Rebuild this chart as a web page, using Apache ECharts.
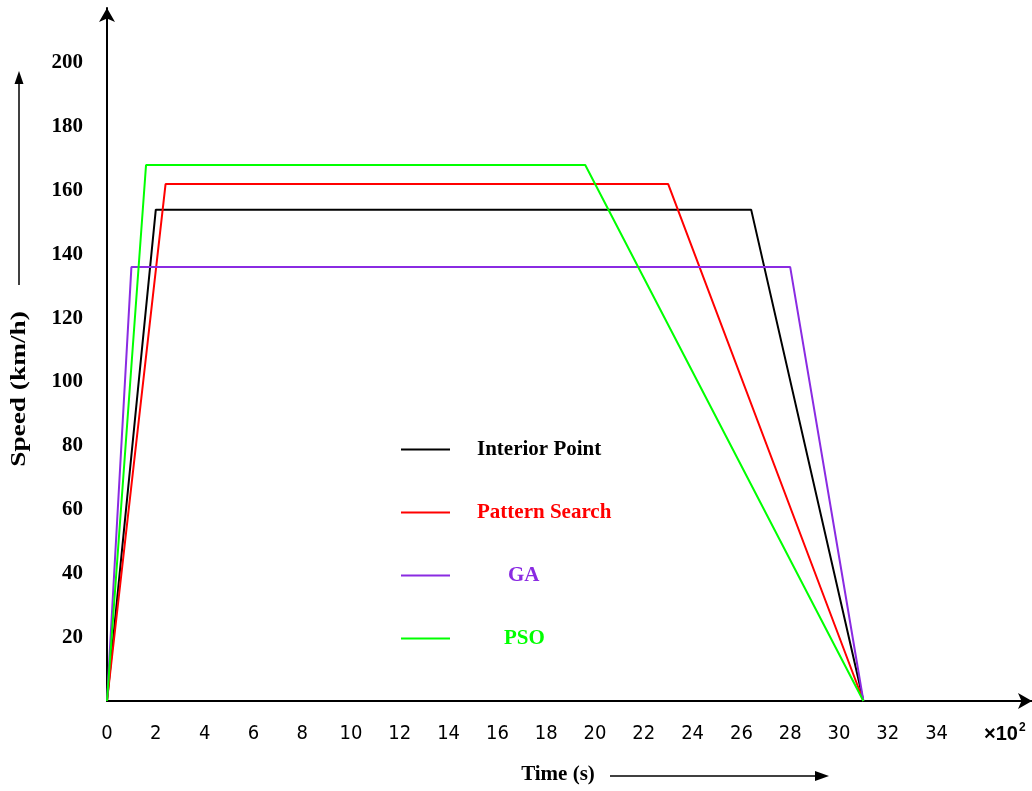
<!DOCTYPE html>
<html>
<head>
<meta charset="utf-8">
<script src="https://cdn.jsdelivr.net/npm/echarts@6/dist/echarts.min.js"></script>
<style>
  html, body { margin: 0; padding: 0; background: #fff; }
  #chart { width: 1032px; height: 791px; }
</style>
</head>
<body>
<div id="chart"></div>
<script>
// Speed profiles of the train run (time in hundreds of seconds, speed in km/h)
const seriesNames = ['Interior Point', 'Pattern Search', 'GA', 'PSO'];
const seriesColors = ['#000000', '#ff0000', '#8a2be2', '#00ff00'];
const interiorPoint = [[0, 0], [2.0, 154], [26.4, 154], [31.0, 0]];
const patternSearch = [[0, 0], [2.4, 162], [23.0, 162], [31.0, 0]];
const gaProfile     = [[0, 0], [1.0, 136], [28.0, 136], [31.0, 0]];
const psoProfile    = [[0, 0], [1.6, 168], [19.6, 168], [31.0, 0]];
const xTickLabels = [0, 2, 4, 6, 8, 10, 12, 14, 16, 18, 20, 22, 24, 26, 28, 30, 32, 34];
const yTickLabels = [20, 40, 60, 80, 100, 120, 140, 160, 180, 200];

// horizontal indent of each legend label
const legendIndent = [22, 22, 53, 49];

const profiles = [interiorPoint, patternSearch, gaProfile, psoProfile];

const chart = echarts.init(document.getElementById('chart'), null, { renderer: 'canvas' });

const serif = "'Liberation Serif', 'Times New Roman', serif";
const sans = "'DejaVu Sans Condensed', 'Liberation Sans', sans-serif";

const option = {
  backgroundColor: '#ffffff',
  animation: false,
  grid: { left: 107, right: 0, top: 8, bottom: 90, containLabel: false },
  xAxis: {
    type: 'value',
    min: 0,
    max: 37.91,
    interval: 2,
    splitLine: { show: false },
    axisTick: { show: false },
    axisLine: {
      show: true,
      onZero: false,
      symbol: ['none', 'arrow'],
      symbolSize: [12, 14],
      lineStyle: { color: '#000', width: 2 }
    },
    axisLabel: {
      margin: 23,
      fontFamily: sans,
      fontSize: 20,
      color: '#000',
      showMaxLabel: false,
      formatter: v => (xTickLabels.indexOf(v) >= 0 ? String(v) : '')
    }
  },
  yAxis: {
    type: 'value',
    min: 0,
    max: 217.2,
    interval: 20,
    splitLine: { show: false },
    axisTick: { show: false },
    axisLine: {
      show: true,
      onZero: false,
      symbol: ['none', 'arrow'],
      symbolSize: [12, 14],
      lineStyle: { color: '#000', width: 2 }
    },
    axisLabel: {
      margin: 24,
      padding: [6, 0, 0, 0],
      fontFamily: serif,
      fontWeight: 'bold',
      fontSize: 21,
      color: '#000',
      showMaxLabel: false,
      formatter: v => (yTickLabels.indexOf(v) >= 0 ? String(v) : '')
    }
  },
  legend: {
    orient: 'vertical',
    left: 400,
    top: 439,
    padding: 0,
    itemWidth: 49,
    itemHeight: 14,
    itemGap: 42,
    selectedMode: false,
    itemStyle: { opacity: 0 },
    data: seriesNames.map((name, i) => ({
      name: name,
      textStyle: {
        color: seriesColors[i],
        fontFamily: serif,
        fontWeight: 'bold',
        fontSize: 21,
        padding: [0, 0, 0, legendIndent[i]]
      }
    }))
  },
  series: seriesNames.map((name, i) => ({
    name: name,
    type: 'line',
    data: profiles[i],
    symbol: 'none',
    color: seriesColors[i],
    lineStyle: { color: seriesColors[i], width: 2 }
  })),
  graphic: [
    // vertical axis title with its arrow
    {
      type: 'text',
      x: 20,
      y: 389,
      rotation: Math.PI / 2,
      scaleX: 1.3,
      style: {
        text: 'Speed (km/h)',
        font: "bold 21px " + serif,
        fill: '#000',
        align: 'center',
        verticalAlign: 'middle'
      }
    },
    {
      type: 'line',
      shape: { x1: 19, y1: 285, x2: 19, y2: 80 },
      style: { stroke: '#000', lineWidth: 1.5 }
    },
    {
      type: 'polygon',
      shape: { points: [[19, 71], [14.5, 84], [23.5, 84]] },
      style: { fill: '#000' }
    },
    // horizontal axis title with its arrow
    {
      type: 'text',
      style: {
        text: 'Time (s)',
        font: "bold 21px " + serif,
        fill: '#000',
        align: 'center',
        verticalAlign: 'middle',
        x: 558, y: 775
      }
    },
    {
      type: 'line',
      shape: { x1: 610, y1: 776, x2: 818, y2: 776 },
      style: { stroke: '#000', lineWidth: 1.5 }
    },
    {
      type: 'polygon',
      shape: { points: [[829, 776], [815, 771], [815, 781]] },
      style: { fill: '#000' }
    },
    // time unit multiplier
    {
      type: 'text',
      style: {
        text: '{m|\u00d710}{s|2}',
        x: 984, y: 733,
        verticalAlign: 'middle',
        rich: {
          m: { fontFamily: "'Liberation Sans', sans-serif", fontWeight: 'bold', fontSize: 20, color: '#000', verticalAlign: 'bottom' },
          s: { fontFamily: "'Liberation Sans', sans-serif", fontWeight: 'bold', fontSize: 12, color: '#000', verticalAlign: 'top', padding: [0, 0, 10, 1] }
        }
      }
    }
  ]
};

chart.setOption(option);
</script>
</body>
</html>
